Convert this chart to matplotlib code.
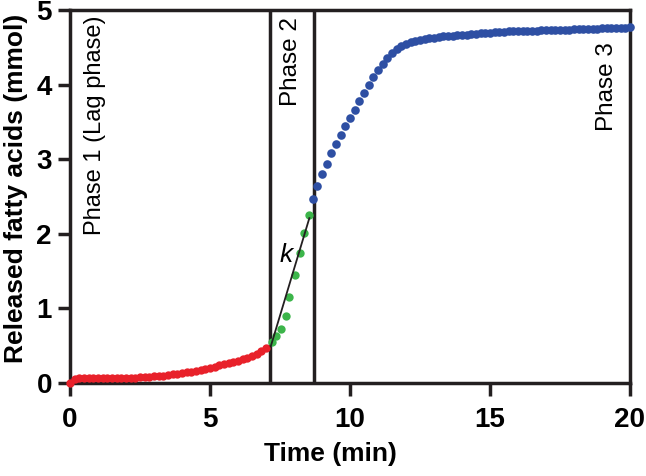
import numpy as np
import matplotlib
matplotlib.use("Agg")
import matplotlib.pyplot as plt

plt.rcParams['font.family'] = ['Liberation Sans', 'DejaVu Sans']

# sampling interval (min) of the measurements (10 s)
interval_min = 1.0 / 6.0

# Phase 1 (lag phase) - red
red_start = 0.0
red_y = [0.0, 0.06, 0.065, 0.065, 0.065, 0.065, 0.065, 0.065, 0.066, 0.066,
         0.067, 0.067, 0.068, 0.070, 0.072, 0.075, 0.078, 0.082, 0.087, 0.093,
         0.100, 0.107, 0.115, 0.124, 0.133, 0.143, 0.153, 0.165, 0.178, 0.190,
         0.205, 0.220, 0.235, 0.250, 0.265, 0.280, 0.300, 0.320, 0.340, 0.365,
         0.395, 0.430, 0.470]

# Phase 2 - green
green_t = [7.20, 7.35, 7.52, 7.70, 7.84, 8.02, 8.20, 8.35, 8.52]
green_y = [0.55, 0.63, 0.73, 0.90, 1.15, 1.45, 1.74, 2.01, 2.25]

# Phase 3 - blue
blue_start = 8.667
blue_y = [2.46, 2.64, 2.80, 2.94, 3.08, 3.20, 3.32, 3.44, 3.55, 3.66,
          3.78, 3.89, 3.99, 4.10, 4.19, 4.27, 4.35, 4.42, 4.48, 4.52,
          4.55, 4.57, 4.59, 4.60, 4.61, 4.62, 4.63, 4.64, 4.645, 4.65,
          4.655, 4.66, 4.665, 4.67, 4.675, 4.68, 4.685, 4.69, 4.695, 4.70,
          4.705, 4.71, 4.712, 4.714, 4.716, 4.718, 4.72, 4.722, 4.724, 4.726,
          4.728, 4.73, 4.732, 4.734, 4.736, 4.738, 4.74, 4.742, 4.744, 4.746,
          4.748, 4.75, 4.752, 4.754, 4.756, 4.758, 4.76, 4.765, 4.77]

# linear fit (rate k) across phase 2
fit_t = [7.17, 8.55]
fit_y = [0.49, 2.21]

# phase boundaries
phase_bounds = [7.14, 8.70]

x_ticks = [0, 5, 10, 15, 20]
y_ticks = [0, 1, 2, 3, 4, 5]

red_t = red_start + interval_min * np.arange(len(red_y))
blue_t = blue_start + interval_min * np.arange(len(blue_y))

fig = plt.figure(figsize=(6.46, 4.76), dpi=100)
ax = fig.add_axes([0.1084, 0.1954, 0.975 - 0.1084, 0.979 - 0.1954])

lw = 2.5
dark = '#231f20'
for b in phase_bounds:
    ax.axvline(b, color=dark, lw=lw, zorder=2)

ax.plot(red_t, red_y, 'o', color='#e8212a', ms=6.0, mew=0, zorder=4, clip_on=False)
ax.plot(green_t, green_y, 'o', color='#3cb54a', ms=6.0, mew=0, zorder=3, clip_on=False)
ax.plot(fit_t, fit_y, '-', color=dark, lw=1.3, zorder=4)
ax.plot(blue_t, blue_y, 'o', color='#2e4fa3', ms=6.2, mew=0, zorder=4, clip_on=False)

ax.set_xlim(0, 20)
ax.set_ylim(0, 5)
ax.set_xticks(x_ticks)
ax.set_yticks(y_ticks)
for s in ax.spines.values():
    s.set_linewidth(lw)
    s.set_color(dark)
ax.tick_params(direction='out', length=9, width=lw, color=dark, labelsize=20)
ax.tick_params(axis='x', pad=8)
ax.tick_params(axis='y', pad=4)
for lab in ax.get_xticklabels() + ax.get_yticklabels():
    lab.set_fontweight('bold')

ax.set_xlabel('Time (min)', fontsize=19, fontweight='bold', labelpad=7, x=0.466)
ax.set_ylabel('Released fatty acids (mmol)', fontsize=19, fontweight='bold',
              labelpad=6, y=0.523)

ax.text(0.9, 0.985, 'Phase 1 (Lag phase)', rotation=90, ha='center', va='top',
        fontsize=17, transform=ax.get_xaxis_transform())
ax.text(7.9, 0.98, 'Phase 2', rotation=90, ha='center', va='top',
        fontsize=17.5, transform=ax.get_xaxis_transform())
ax.text(19.2, 0.915, 'Phase 3', rotation=90, ha='center', va='top',
        fontsize=17.5, transform=ax.get_xaxis_transform())
ax.text(7.72, 1.72, 'k', style='italic', ha='center', va='center', fontsize=19)

fig.savefig('out.png', dpi=100)
